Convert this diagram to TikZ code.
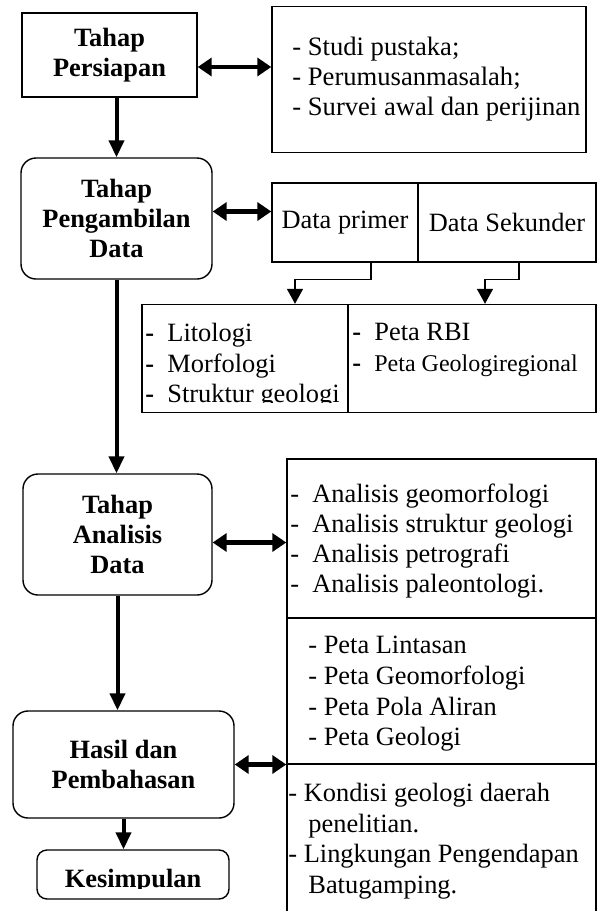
\documentclass[tikz,border=0pt]{standalone}
\usepackage{fontspec}
\setmainfont{Liberation Serif}
\usetikzlibrary{arrows.meta}

\begin{document}
\begin{tikzpicture}[x=0.5pt, y=-0.5pt,
        stage/.style={draw, line width=0.7pt, rounded corners=7.5pt, align=center, inner sep=0pt,
            font=\fontsize{13.2}{15}\selectfont\bfseries},
        listbox/.style={draw, line width=0.7pt, inner sep=0pt, align=center,
            font=\fontsize{13.2}{15}\selectfont},
        itemtext/.style={anchor=north west, inner sep=0pt, align=left,
            font=\fontsize{13.2}{15.3}\selectfont},
        flow/.style={-{Triangle[length=8.5pt, width=7.5pt]}, line width=2pt},
        link/.style={{Triangle[length=7pt, width=9pt]}-{Triangle[length=7pt, width=9pt]}, line width=2.2pt},
        branch/.style={-{Triangle[length=7.5pt, width=8pt]}, line width=0.7pt}]
                \useasboundingbox (0,0) rectangle (600,911);
                % Stages:
                \node[stage, sharp corners, minimum width=87.5pt, minimum height=42pt] (persiapan) at (109.5,55) {Tahap\\Persiapan};
                \node[stage, minimum width=95.5pt, minimum height=60.5pt] (ambil) at (116.5,218.5) {Tahap\\Pengambilan\\Data};
                \node[stage, minimum width=94.5pt, minimum height=60.5pt] (analisis) at (117.5,534.5) {Tahap\\Analisis\\Data};
                \node[stage, minimum width=110.5pt, minimum height=53.5pt] (hasil) at (123.5,764.5) {Hasil dan\\Pembahasan};
                \node[stage, rounded corners=5pt, minimum width=96pt, minimum height=24.5pt] (simpul) at (133,874.5) {};
                \begin{scope}
                    \clip (37,850) rectangle (229,888);
                    \node[stage, draw=none, anchor=base] (simpultxt) at (133,887) {Kesimpulan};
                \end{scope}
                % Boxes on the right:
                \node[listbox, minimum width=157pt, minimum height=73pt] (studi) at (429,79.5) {};
                \node[listbox, minimum width=73pt, minimum height=39.5pt] (primer) at (345,222.5) {Data primer};
                \node[listbox, minimum width=89pt, minimum height=39.5pt] (sekunder) at (507,222.5) {Data Sekunder};
                \node[listbox, minimum width=103pt, minimum height=54pt] (lito) at (245,358.5) {};
                \node[listbox, minimum width=124pt, minimum height=54pt] (peta) at (472,358.5) {};
                \node[listbox, minimum width=154.5pt, minimum height=79.5pt] (anal) at (441.5,538.5) {};
                \node[listbox, minimum width=154.5pt, minimum height=73pt] (petabox) at (441.5,691) {};
                \node[listbox, minimum width=154.5pt, minimum height=78pt] (kondisi) at (441.5,842) {};
                % Texts:
                \node[itemtext, font=\fontsize{13.3}{15}\selectfont] (studitxt) at (292,37) {- Studi pustaka;\\- Perumusanmasalah;\\- Survei awal dan perijinan};
                \begin{scope}
                    \clip (142,303) rectangle (348,402);
                    \node[itemtext] (litotxt) at (145,323) {\textbf{-}\ \ Litologi\\\textbf{-}\ \ Morfologi\\\textbf{-}\ \ Struktur geologi};
                \end{scope}
                \node[itemtext] (petatxt) at (352,323) {\textbf{-}\ \ Peta RBI\\\textbf{-}\ \ {\fontsize{12}{15}\selectfont Peta Geologiregional}};
                \node[itemtext, font=\fontsize{13.2}{15}\selectfont] (analtxt) at (290,484) {-\ \ Analisis geomorfologi\\-\ \ Analisis struktur geologi\\-\ \ Analisis petrografi\\-\ \ Analisis paleontologi.};
                \node[itemtext] (petaboxtxt) at (308,636) {- Peta Lintasan\\- Peta Geomorfologi\\- Peta Pola Aliran\\- Peta Geologi};
                \node[itemtext] (kondisitxt) at (288,783) {- Kondisi geologi daerah\\\hspace{10pt}penelitian.\\- Lingkungan Pengendapan\\\hspace{10pt}Batugamping.};
                % Arrows:
                \draw[flow] (persiapan.south -| ambil.north) -- (ambil.north);
                \draw[flow] (ambil.south) -- (ambil.south |- analisis.north);
                \draw[flow] (analisis.south) -- (analisis.south |- hasil.north);
                \draw[flow] (hasil.south) -- (hasil.south |- simpul.north);
                \draw[link] ([yshift=-6pt]persiapan.east) -- ([yshift=-6pt]persiapan.east -| studi.west);
                \draw[link] ([yshift=3.5pt]ambil.east) -- ([yshift=3.5pt]ambil.east -| primer.west);
                \draw[link] ([yshift=-4pt]analisis.east) -- ([yshift=-4pt]analisis.east -| anal.west);
                \draw[link] (hasil.east) -- (hasil.east -| petabox.west);
                \draw[branch] ([xshift=13pt]primer.south) -- ++(0,17) -| ([xshift=25pt]lito.north);
                \draw[branch] ([xshift=6pt]sekunder.south) -- ++(0,17) -| ([xshift=6.5pt]peta.north);
            \end{tikzpicture}
\end{document}
